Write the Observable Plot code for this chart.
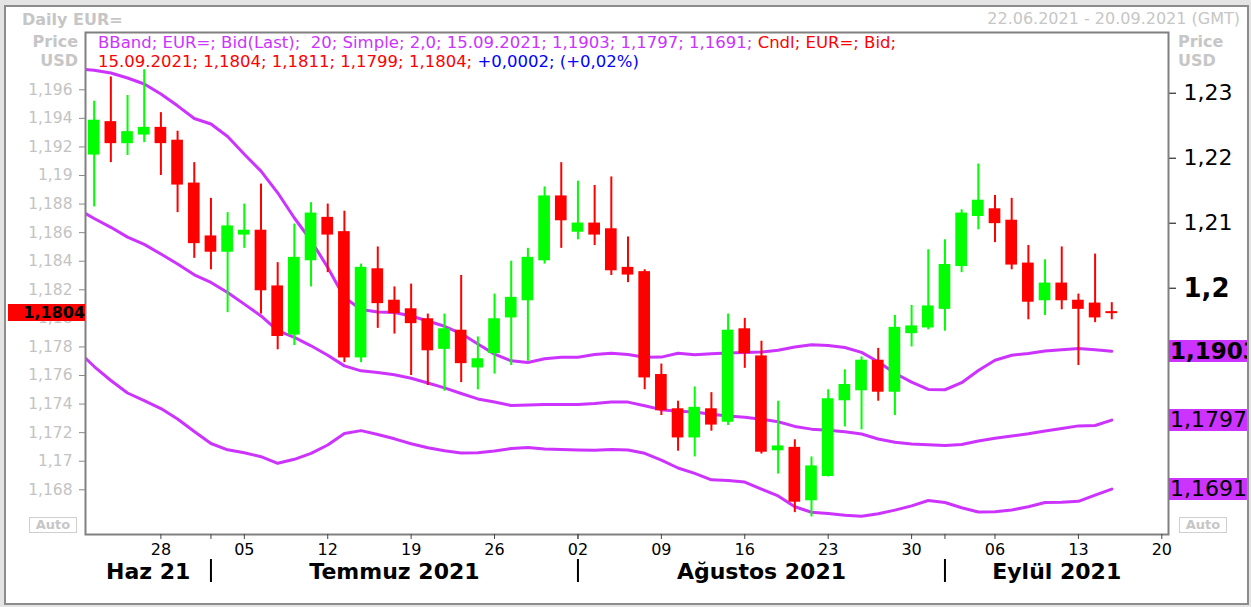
<!DOCTYPE html>
<html><head><meta charset="utf-8">
<script src="https://cdn.jsdelivr.net/npm/d3@7"></script>
<script src="https://cdn.jsdelivr.net/npm/@observablehq/plot@0.6"></script>
<style>
body{margin:0;background:#e4e4e4;}
#root{position:relative;width:1251px;height:607px;background:#e4e4e4;overflow:hidden;font-family:"DejaVu Sans",Verdana,sans-serif;}
#outer{position:absolute;left:4px;top:5px;width:1245px;height:600px;border:2px solid #8c8c8c;background:#fff;box-sizing:border-box;}
.abs{position:absolute;white-space:pre;line-height:1;}
.plot{position:absolute;left:0;top:0;}
.gray{color:#c6c6c6;font-weight:bold;font-size:16px;}
.auto{position:absolute;width:48px;height:16px;border:1.5px solid #cfcfcf;box-sizing:border-box;color:#c6c6c6;font-weight:bold;font-size:13px;line-height:13px;text-align:center;}
.box{position:absolute;overflow:hidden;white-space:nowrap;color:#000;}
</style></head><body>
<div id="root">
  <div id="outer"></div>
  <div id="bands" class="plot"></div>
  <div id="candles" class="plot"></div>
  <div id="overlay"></div>
</div>
<script>
// ---- data ----
const sessions = [
"2021-06-21","2021-06-22","2021-06-23","2021-06-24","2021-06-25",
"2021-06-28","2021-06-29","2021-06-30","2021-07-01","2021-07-02",
"2021-07-05","2021-07-06","2021-07-07","2021-07-08","2021-07-09",
"2021-07-12","2021-07-13","2021-07-14","2021-07-15","2021-07-16",
"2021-07-19","2021-07-20","2021-07-21","2021-07-22","2021-07-23",
"2021-07-26","2021-07-27","2021-07-28","2021-07-29","2021-07-30",
"2021-08-02","2021-08-03","2021-08-04","2021-08-05","2021-08-06",
"2021-08-09","2021-08-10","2021-08-11","2021-08-12","2021-08-13",
"2021-08-16","2021-08-17","2021-08-18","2021-08-19","2021-08-20",
"2021-08-23","2021-08-24","2021-08-25","2021-08-26","2021-08-27",
"2021-08-30","2021-08-31","2021-09-01","2021-09-02","2021-09-03",
"2021-09-06","2021-09-07","2021-09-08","2021-09-09","2021-09-10",
"2021-09-13","2021-09-14","2021-09-15","2021-09-16","2021-09-17",
"2021-09-20"];

const candleDays = sessions.slice(1, 63);   // 22.06 .. 15.09
const bandDays = sessions.slice(0, 63);     // 21.06 .. 15.09

const openP  = [1.1915,1.1937,1.1923,1.1929,1.1933,1.1924,1.1894,1.1857,1.1847,1.1859,
1.1861,1.1822,1.1789,1.1841,1.1870,1.1860,1.1773,1.1834,1.1812,1.1806,
1.1799,1.1779,1.1791,1.1766,1.1776,1.1801,1.1813,1.1841,1.1885,1.1861,
1.1866,1.1862,1.1835,1.1832,1.1760,1.1736,1.1717,1.1736,1.1728,1.1792,
1.1773,1.1708,1.1709,1.1673,1.1690,1.1743,1.1750,1.1770,1.1749,1.1790,
1.1794,1.1807,1.1837,1.1872,1.1876,1.1868,1.1838,1.1813,1.1824,1.1812,
1.1810,1.1804];
const highP  = [1.1952,1.1969,1.1956,1.1974,1.1944,1.1931,1.1909,1.1884,1.1874,1.1880,
1.1894,1.1839,1.1866,1.1881,1.1880,1.1875,1.1838,1.1850,1.1822,1.1824,
1.1803,1.1803,1.1830,1.1787,1.1817,1.1840,1.1849,1.1892,1.1909,1.1896,
1.1893,1.1899,1.1857,1.1834,1.1768,1.1742,1.1752,1.1748,1.1803,1.1800,
1.1784,1.1742,1.1715,1.1703,1.1750,1.1764,1.1773,1.1779,1.1802,1.1809,
1.1848,1.1855,1.1876,1.1908,1.1886,1.1884,1.1851,1.1841,1.1850,1.1817,
1.1845,1.1811];
const lowP   = [1.1878,1.1909,1.1914,1.1923,1.1900,1.1874,1.1842,1.1834,1.1804,1.1849,
1.1803,1.1778,1.1781,1.1822,1.1832,1.1769,1.1769,1.1793,1.1789,1.1760,
1.1753,1.1749,1.1755,1.1750,1.1761,1.1767,1.1770,1.1838,1.1849,1.1855,
1.1851,1.1830,1.1825,1.1750,1.1732,1.1707,1.1703,1.1721,1.1725,1.1765,
1.1705,1.1691,1.1664,1.1661,1.1689,1.1724,1.1722,1.1742,1.1732,1.1780,
1.1792,1.1791,1.1832,1.1862,1.1853,1.1834,1.1799,1.1802,1.1806,1.1767,
1.1797,1.1799];
const closeP = [1.1938,1.1923,1.1930,1.1933,1.1923,1.1894,1.1853,1.1847,1.1864,1.1861,
1.1820,1.1788,1.1842,1.1873,1.1859,1.1773,1.1835,1.1811,1.1804,1.1797,
1.1778,1.1792,1.1769,1.1771,1.1799,1.1814,1.1842,1.1885,1.1869,1.1866,
1.1859,1.1834,1.1831,1.1759,1.1736,1.1717,1.1737,1.1726,1.1791,1.1776,
1.1707,1.1710,1.1672,1.1696,1.1743,1.1753,1.1770,1.1749,1.1793,1.1794,
1.1808,1.1837,1.1873,1.1882,1.1867,1.1838,1.1812,1.1824,1.1813,1.1807,
1.1801,1.1804];

const upperBand  = [1.23372,1.23352,1.23311,1.23234,1.23142,1.22988,1.22806,1.22611,1.22526,1.22334,
1.2206,1.21802,1.21468,1.2108,1.20734,1.20318,1.19857,1.19672,1.19634,1.19626,
1.19572,1.19495,1.19414,1.19303,1.19142,1.18986,1.18883,1.18857,1.18915,1.18937,
1.18938,1.1898,1.19,1.1898,1.18938,1.1894,1.19,1.18977,1.18991,1.19003,
1.19011,1.19017,1.19046,1.19095,1.19129,1.19117,1.19088,1.19012,1.18868,1.18691,
1.18555,1.18442,1.18438,1.18546,1.18735,1.18891,1.18969,1.18997,1.19035,1.19055,
1.19071,1.19055,1.1903];
const middleBand = [1.21218,1.21072,1.20937,1.20786,1.20675,1.20526,1.20372,1.20206,1.20089,1.19934,
1.19755,1.19574,1.19348,1.19243,1.19114,1.18968,1.18805,1.18729,1.18703,1.18669,
1.18614,1.18542,1.18466,1.1838,1.18297,1.18249,1.18195,1.18203,1.18211,1.18211,
1.18211,1.18226,1.18249,1.18248,1.18192,1.18132,1.18108,1.18094,1.18062,1.18034,
1.18015,1.17985,1.17945,1.17874,1.17832,1.17815,1.17791,1.17757,1.1768,1.17631,
1.17605,1.17591,1.1758,1.17595,1.17649,1.17691,1.17726,1.1776,1.17803,1.17842,
1.17882,1.17888,1.1797];
const lowerBand  = [1.19042,1.18795,1.1858,1.18388,1.18272,1.18149,1.17988,1.17795,1.17611,1.17514,
1.17468,1.17408,1.17306,1.17368,1.1746,1.17588,1.17765,1.17809,1.17749,1.17683,
1.17608,1.17545,1.175,1.17466,1.17468,1.17495,1.17534,1.17548,1.17528,1.17518,
1.17512,1.17506,1.17518,1.17511,1.1746,1.17355,1.17234,1.17151,1.17052,1.17042,
1.17017,1.16909,1.16805,1.16638,1.16554,1.16535,1.16506,1.16492,1.16531,1.16586,
1.16652,1.16734,1.16703,1.16623,1.16558,1.1656,1.16589,1.16638,1.16703,1.16709,
1.16722,1.16818,1.1691];

const leftTicks = [1.168,1.170,1.172,1.174,1.176,1.178,1.180,1.182,1.184,1.186,1.188,1.190,1.192,1.194,1.196];
const rightTicks = [1.21,1.22,1.23];
const rightMajorTick = [1.2];
const dayTickDates = ["2021-06-28","2021-07-05","2021-07-12","2021-07-19","2021-07-26","2021-08-02",
"2021-08-09","2021-08-16","2021-08-23","2021-08-30","2021-09-06","2021-09-13","2021-09-20"];
const monthStartDates = ["2021-07-01","2021-08-02","2021-09-01"];
const monthNames = ["Haz 21","Temmuz 2021","Ağustos 2021","Eylül 2021"];
const lastClose = 1.1804;
const bandLast = [1.1903, 1.1797, 1.1691];

// ---- build ----
const idx = d => sessions.indexOf(d);
const xDomain = [0.48, 65.4];
const candles = candleDays.map((d, k) => ({i: idx(d), open: openP[k], high: highP[k], low: lowP[k], close: closeP[k]}));
const bands = bandDays.map((d, k) => ({i: idx(d), upper: upperBand[k], middle: middleBand[k], lower: lowerBand[k]}));
const col = d => d.close > d.open ? "#00ff00" : "#ff0000";
const fmt = v => String(+(+v).toFixed(4)).replace(".", ",");
const dayTicks = dayTickDates.map(idx);
const monthStarts = monthStartDates.map(idx);
const edges = [xDomain[0], ...monthStarts, xDomain[1]];
const months = monthNames.map((name, k) => ({name, mid: (edges[k] + edges[k + 1]) / 2}));

const common = {
  width: 1251, height: 607, marginLeft: 85, marginRight: 83, marginTop: 32, marginBottom: 73,
  style: {background: "transparent", overflow: "visible", fontFamily: "DejaVu Sans"}
};

const pBands = Plot.plot({
  ...common,
  x: {type: "linear", domain: xDomain, axis: null, label: null},
  y: {domain: [1.16211, 1.23934], label: null},
  marks: [
    Plot.line(bands, {x: "i", y: "upper", stroke: "#cc33ff", strokeWidth: 3, clip: true}),
    Plot.line(bands, {x: "i", y: "middle", stroke: "#cc33ff", strokeWidth: 3, clip: true}),
    Plot.line(bands, {x: "i", y: "lower", stroke: "#cc33ff", strokeWidth: 3, clip: true}),
    Plot.axisY(rightTicks, {anchor: "right", tickSize: 7, tickPadding: 8, tickFormat: fmt, fontSize: 22, fill: "#000", stroke: "#000", label: null}),
    Plot.axisY(rightMajorTick, {anchor: "right", tickSize: 7, tickPadding: 8, tickFormat: fmt, fontSize: 26, fontWeight: "bold", fill: "#000", stroke: "#000", label: null})
  ]
});
document.getElementById("bands").append(pBands);

const pCandles = Plot.plot({
  ...common,
  x: {type: "linear", domain: xDomain, label: null},
  y: {domain: [1.16487, 1.20001], label: null},
  marks: [
    Plot.ruleX(candles, {x: "i", y1: "low", y2: "high", stroke: col, strokeWidth: 2}),
    Plot.rect(candles, {x1: d => d.i - 0.35, x2: d => d.i + 0.35, y1: "open", y2: "close", fill: col, insetTop: -1, insetBottom: -1}),
    Plot.frame({stroke: "#808080", strokeWidth: 2}),
    Plot.axisY(leftTicks, {anchor: "left", tickSize: 6, tickPadding: 7, tickFormat: fmt, fontSize: 15.5, fill: "#c3c3c3", stroke: "#8a8a8a", label: null}),
    Plot.axisX(dayTicks, {anchor: "bottom", tickSize: 5, tickPadding: 4, tickFormat: i => sessions[i].slice(8), fontSize: 16, fill: "#000", stroke: "#444", label: null}),
    Plot.axisX(monthStarts, {anchor: "bottom", tickSize: 5, tickFormat: () => "", stroke: "#444", label: null}),
    Plot.axisX(monthStarts, {anchor: "bottom", tickSize: 23, dy: 25, strokeWidth: 2, stroke: "#000", tickFormat: () => "", label: null}),
    Plot.text(months, {x: "mid", text: "name", frameAnchor: "bottom", dy: 37, lineAnchor: "middle", fontSize: 22, fontWeight: "bold", fill: "#000"})
  ]
});
document.getElementById("candles").append(pCandles);

// ---- overlay text & value boxes ----
const ov = document.getElementById("overlay");
function add(html, style, cls = "abs") {
  const el = document.createElement("div");
  el.className = cls;
  el.innerHTML = html;
  Object.assign(el.style, style);
  ov.append(el);
  return el;
}
add("Daily EUR=", {left: "22px", top: "12px"}, "abs gray");
add("Price", {right: (1251 - 78) + "px", top: "34px"}, "abs gray");
add("USD", {right: (1251 - 78) + "px", top: "53px"}, "abs gray");
add("Price", {left: "1178px", top: "34px"}, "abs gray");
add("USD", {left: "1178px", top: "53px"}, "abs gray");
add("22.06.2021 - 20.09.2021 (GMT)", {right: "11px", top: "11px", color: "#c6c6c6", fontSize: "16px"});
add('<span style="color:#cc33ff">BBand; EUR=; Bid(Last);  20; Simple; 2,0; 15.09.2021; ' + bandLast.map(fmt).join("; ") + ';</span><span style="color:#ff0000"> Cndl; EUR=; Bid;</span>',
    {left: "98px", top: "35px", fontSize: "16.5px"});
add('<span style="color:#ff0000">15.09.2021; ' + [openP[61], highP[61], lowP[61], closeP[61]].map(fmt).join("; ") + ';</span><span style="color:#0000ff"> +0,0002; (+0,02%)</span>',
    {left: "98px", top: "53.5px", fontSize: "16.5px"});
add("Auto", {left: "29px", top: "517px"}, "auto");
add("Auto", {left: "1179px", top: "517px"}, "auto");

const yL = pCandles.scale("y");
add(fmt(lastClose), {left: "8px", width: "77px", height: "17px", top: (yL.apply(lastClose) - 8.5) + "px",
  background: "#ff0000", fontWeight: "bold", fontSize: "16px", lineHeight: "17px", textAlign: "right"}, "box");

const yR = pBands.scale("y");
bandLast.forEach((v, k) => {
  add(fmt(v), {left: "1169px", width: "77px", height: "22px", top: (yR.apply(v) - 11) + "px",
    background: "#cc33ff", fontWeight: k === 0 ? "bold" : "normal", fontSize: k === 0 ? "23px" : "22px", lineHeight: "22px", paddingLeft: "1px"}, "box");
});
</script>
</body></html>
